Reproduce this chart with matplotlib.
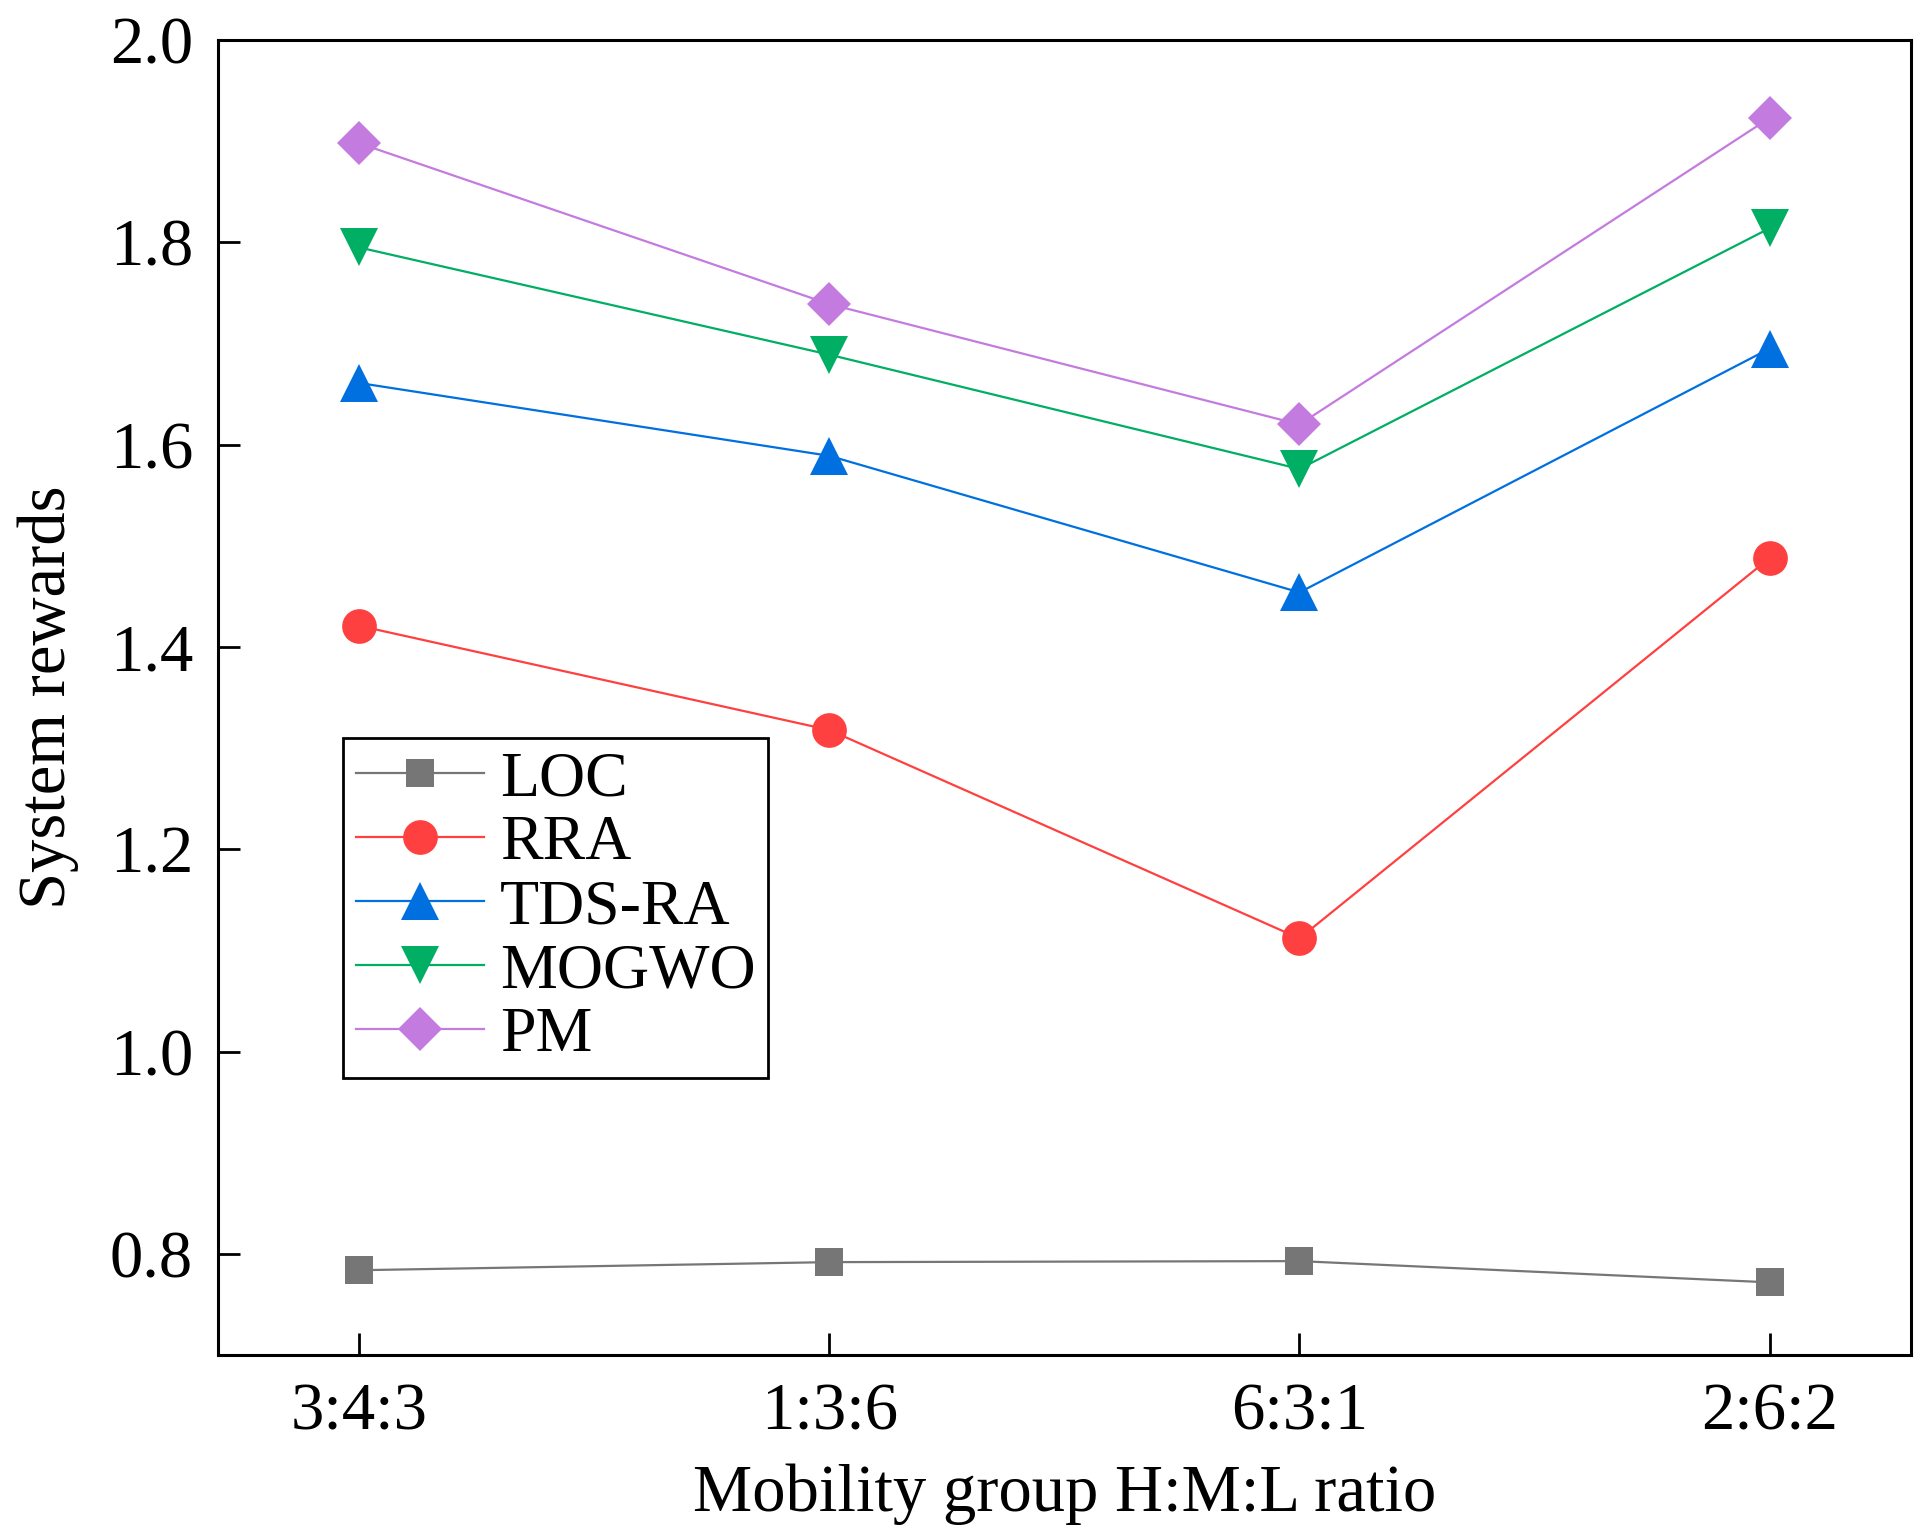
import numpy as np
import matplotlib
matplotlib.use("Agg")
import matplotlib.pyplot as plt

ratios = ["3:4:3", "1:3:6", "6:3:1", "2:6:2"]
loc = [0.784, 0.792, 0.793, 0.772]
rra = [1.421, 1.318, 1.112, 1.488]
tds_ra = [1.661, 1.589, 1.454, 1.695]
mogwo = [1.795, 1.689, 1.576, 1.814]
pm = [1.898, 1.739, 1.620, 1.923]

series = [
    ("LOC", loc, "#767676", "s", 20),
    ("RRA", rra, "#FF4040", "o", 25),
    ("TDS-RA", tds_ra, "#0070E0", "^", 27),
    ("MOGWO", mogwo, "#00AE64", "v", 27),
    ("PM", pm, "#C47BE0", "D", 22),
]

plt.rcParams["font.family"] = ["Liberation Serif", "DejaVu Serif"]

fig, ax = plt.subplots(figsize=(19.3, 15.4), dpi=100)
fig.subplots_adjust(left=0.113, right=0.99, top=0.974, bottom=0.12)

x = np.arange(len(ratios))
for name, vals, color, marker, ms in series:
    ax.plot(x, vals, color=color, lw=1.6, marker=marker, ms=ms,
            markeredgewidth=0, label=name)

ax.set_xlim(-0.3, 3.3)
ax.set_ylim(0.7, 2.0)
ax.set_xticks(x)
ax.set_xticklabels(ratios)
ax.set_yticks(np.arange(0.8, 2.01, 0.2))
ax.set_yticklabels([f"{v:.1f}" for v in np.arange(0.8, 2.01, 0.2)])
ax.tick_params(direction="in", length=16, width=2, labelsize=48)
ax.tick_params(axis="x", pad=20)
ax.tick_params(axis="y", pad=18)
for sp in ax.spines.values():
    sp.set_linewidth(2.2)

ax.set_xlabel("Mobility group H:M:L ratio", fontsize=48, labelpad=14)
ax.set_ylabel("System rewards", fontsize=48, labelpad=22)

leg = ax.legend(loc="lower left", bbox_to_anchor=(0.074, 0.211), fontsize=46,
                frameon=True, fancybox=False, edgecolor="black", framealpha=1,
                handlelength=2.0, handletextpad=0.25, labelspacing=0.08,
                borderpad=0.2, borderaxespad=0)
leg.get_frame().set_linewidth(2)

fig.savefig("out.png", dpi=100)
